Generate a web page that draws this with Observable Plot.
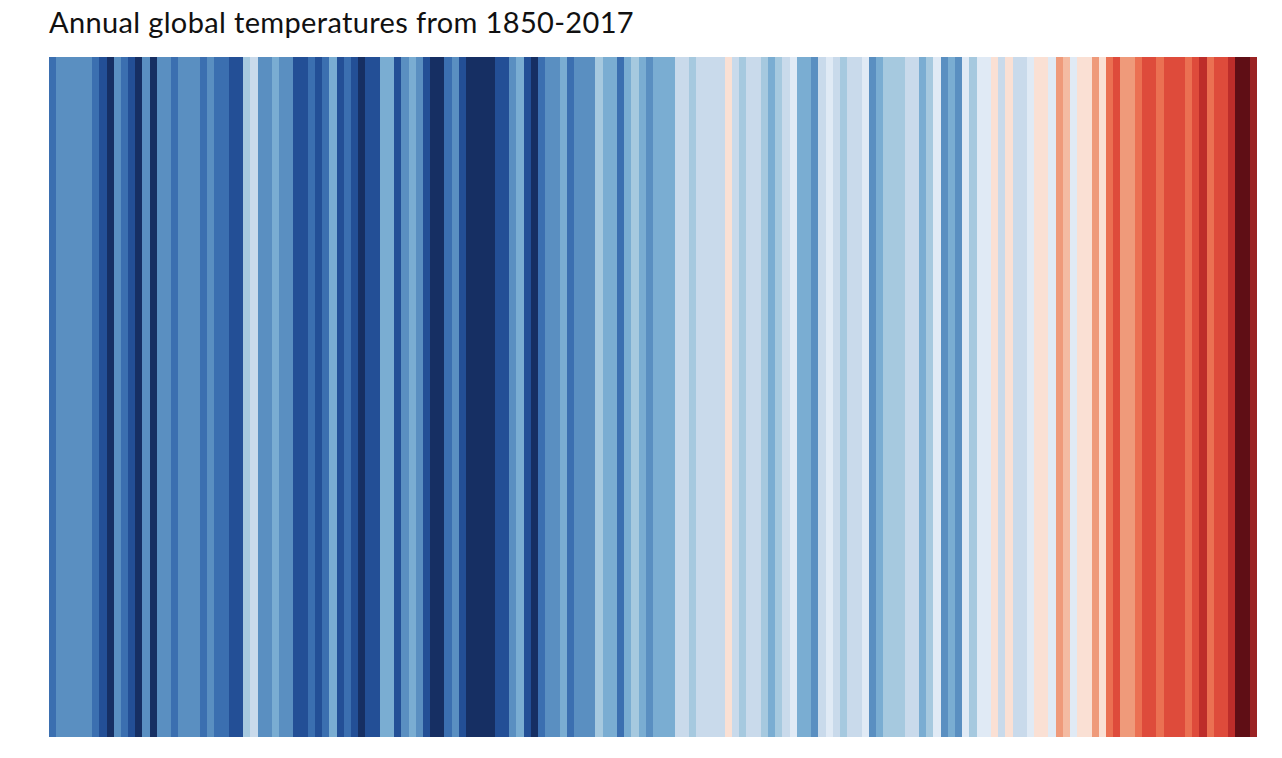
<!DOCTYPE html>
<html>
<head>
<meta charset="utf-8">
<script src="https://cdn.jsdelivr.net/npm/d3@7"></script>
<script src="https://cdn.jsdelivr.net/npm/@observablehq/plot@0.6"></script>
<style>
  body { margin: 0; background: #fff; }
  #title { position: absolute; left: 49px; top: 4px; font-family: Lato, "Open Sans", sans-serif; font-size: 29px; letter-spacing: 0.35px; color: #111; white-space: nowrap; }
  #chart { position: absolute; left: 0; top: 57px; }
</style>
</head>
<body>
<div id="title">Annual global temperatures from 1850-2017</div>
<div id="chart"></div>
<script>
const years = [
  1850,1851,1852,1853,1854,1855,1856,1857,1858,1859,
  1860,1861,1862,1863,1864,1865,1866,1867,1868,1869,
  1870,1871,1872,1873,1874,1875,1876,1877,1878,1879,
  1880,1881,1882,1883,1884,1885,1886,1887,1888,1889,
  1890,1891,1892,1893,1894,1895,1896,1897,1898,1899,
  1900,1901,1902,1903,1904,1905,1906,1907,1908,1909,
  1910,1911,1912,1913,1914,1915,1916,1917,1918,1919,
  1920,1921,1922,1923,1924,1925,1926,1927,1928,1929,
  1930,1931,1932,1933,1934,1935,1936,1937,1938,1939,
  1940,1941,1942,1943,1944,1945,1946,1947,1948,1949,
  1950,1951,1952,1953,1954,1955,1956,1957,1958,1959,
  1960,1961,1962,1963,1964,1965,1966,1967,1968,1969,
  1970,1971,1972,1973,1974,1975,1976,1977,1978,1979,
  1980,1981,1982,1983,1984,1985,1986,1987,1988,1989,
  1990,1991,1992,1993,1994,1995,1996,1997,1998,1999,
  2000,2001,2002,2003,2004,2005,2006,2007,2008,2009,
  2010,2011,2012,2013,2014,2015,2016,2017
];

// Annual global temperature anomaly (°C)
const anomalies = [
  -0.37,-0.22,-0.23,-0.27,-0.25,-0.27,-0.36,-0.46,-0.49,-0.26,
  -0.31,-0.42,-0.52,-0.28,-0.48,-0.28,-0.24,-0.33,-0.27,-0.28,
  -0.27,-0.33,-0.23,-0.31,-0.37,-0.42,-0.40,-0.10,-0.02,-0.23,
  -0.27,-0.19,-0.24,-0.28,-0.44,-0.40,-0.34,-0.43,-0.34,-0.17,
  -0.41,-0.36,-0.45,-0.48,-0.42,-0.39,-0.18,-0.15,-0.40,-0.25,
  -0.16,-0.22,-0.42,-0.50,-0.55,-0.35,-0.26,-0.44,-0.50,-0.52,
  -0.49,-0.54,-0.45,-0.42,-0.24,-0.18,-0.44,-0.52,-0.36,-0.28,
  -0.27,-0.17,-0.32,-0.28,-0.27,-0.24,-0.09,-0.19,-0.18,-0.35,
  -0.14,-0.10,-0.15,-0.29,-0.14,-0.17,-0.15,-0.03, 0.00,-0.05,
   0.01, 0.01,-0.01, 0.00, 0.14, 0.02,-0.06,-0.03,-0.03,-0.07,
  -0.17,-0.06, 0.01, 0.08,-0.15,-0.14,-0.23, 0.00, 0.06, 0.03,
  -0.06, 0.02, 0.01, 0.05,-0.24,-0.16,-0.08,-0.07,-0.10, 0.02,
  -0.02,-0.17,-0.06, 0.09,-0.22,-0.17,-0.25, 0.09,-0.05, 0.06,
   0.09, 0.15, 0.03, 0.18, 0.01,-0.02, 0.06, 0.18, 0.19, 0.10,
   0.31, 0.25, 0.10, 0.14, 0.17, 0.32, 0.18, 0.39, 0.53, 0.31,
   0.30, 0.43, 0.49, 0.51, 0.44, 0.54, 0.51, 0.49, 0.40, 0.50,
   0.56, 0.42, 0.47, 0.51, 0.58, 0.76, 0.80, 0.68
];

const thresholds = [-0.47, -0.38, -0.30, -0.21, -0.13, -0.04, 0.04, 0.125, 0.21, 0.29, 0.38, 0.46, 0.55, 0.63, 0.72];
const stripeColors = [
  "#162f63","#234f96","#3b6fb0","#5a8fc1","#7aadd2","#a6c9df","#c9daeb","#e0eaf5",
  "#fae0d4","#f4bba2","#ef9a7a","#eb7052","#de4b3b","#bd2d2a","#9a2223","#5f0e15"
];

const data = years.map((year, i) => ({year, anomaly: anomalies[i]}));

const chart = Plot.plot({
  width: 1282,
  height: 680,
  marginLeft: 49,
  marginRight: 25,
  marginTop: 0,
  marginBottom: 0,
  x: {domain: [1850, 2018], axis: null, round: true},
  y: {axis: null},
  color: {type: "threshold", domain: thresholds, range: stripeColors},
  marks: [
    Plot.barX(data, {x: "year", interval: 1, fill: "anomaly", inset: 0, shapeRendering: "crispEdges"})
  ]
});
document.getElementById("chart").appendChild(chart);
</script>
</body>
</html>
